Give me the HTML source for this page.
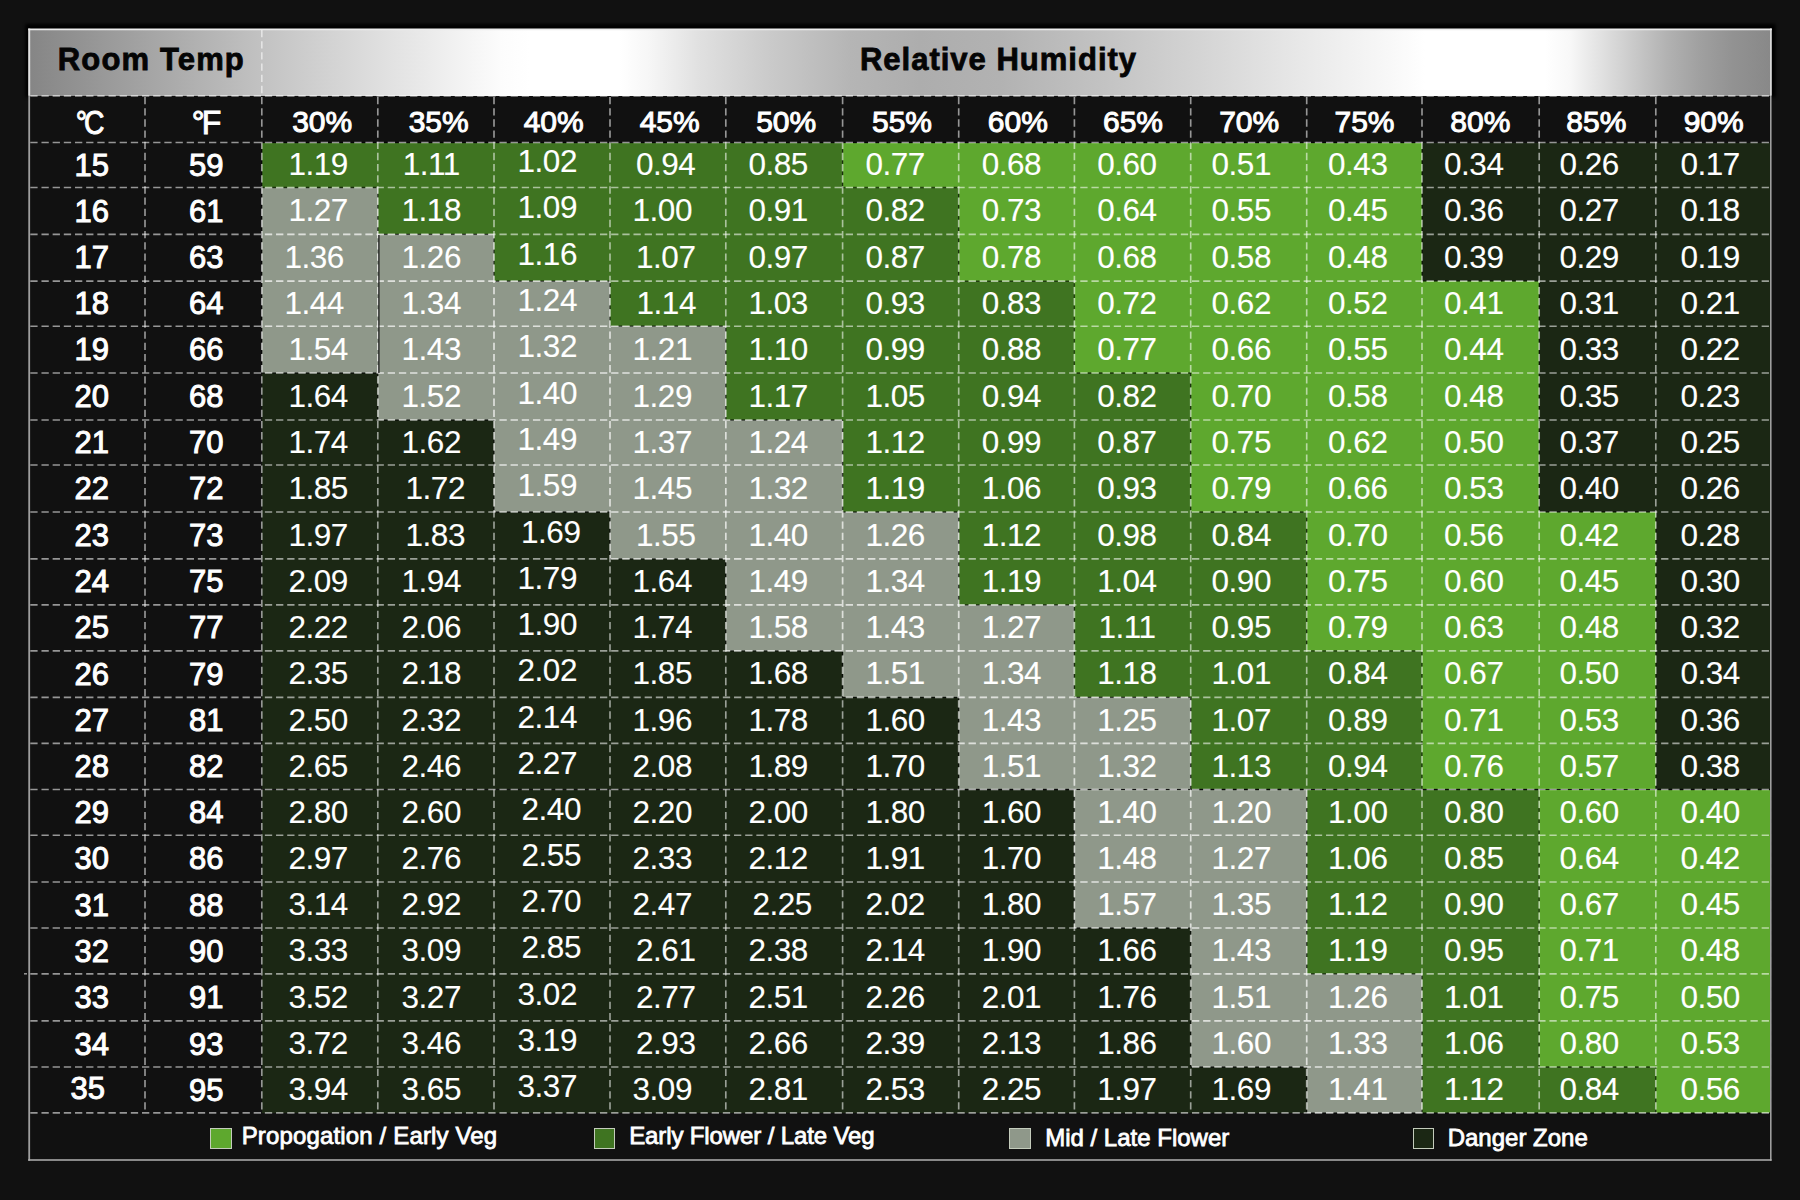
<!DOCTYPE html>
<html><head><meta charset="utf-8"><title>VPD Chart</title>
<style>
html,body{margin:0;padding:0;background:#111;}
body{width:1800px;height:1200px;position:relative;overflow:hidden;font-family:"Liberation Sans",sans-serif;color:#fff;}
.c{position:absolute;}
.t{position:absolute;text-align:center;white-space:nowrap;line-height:1;}
.d{font-size:31.5px;letter-spacing:-0.5px;-webkit-text-stroke:0.1px #fff;}
.b{font-size:31px;-webkit-text-stroke:1px #fff;}
.u{font-size:34px;-webkit-text-stroke:1px #fff;}
.dg{display:inline-block;letter-spacing:-3.5px;transform:scaleX(0.83);}
.df{letter-spacing:-3px;transform:scaleX(0.94);}
.p{font-size:30px;-webkit-text-stroke:1px #fff;}
.h{font-size:31px;font-weight:bold;color:#050505;letter-spacing:1.15px;-webkit-text-stroke:0.8px #050505;}
.l{font-size:24px;text-align:left;-webkit-text-stroke:0.8px #fff;}
svg{position:absolute;left:0;top:0;}

</style></head><body>
<div class="c" style="left:28.4px;top:28.5px;width:1743.6px;height:66.3px;box-shadow:0 -1.5px 3px 3.5px #000;"></div>
<div class="c" style="left:29.2px;top:29.5px;width:1742.0px;height:1130.5px;background:#111111;"></div>
<div class="c" style="left:29.2px;top:29.5px;width:1742.0px;height:66.3px;background:linear-gradient(90deg,#858585 -0.07%,#c2c2c2 13.36%,#dadada 18.99%,#f0f0f0 24.16%,#fcfcfc 27.03%,#ffffff 28.75%,#ffffff 33.92%,#f6f6f6 35.64%,#e0e0e0 38.51%,#cacaca 42.53%,#b5b5b5 47.12%,#adadad 51.14%,#b2b2b2 55.73%,#c2c2c2 61.47%,#d4d4d4 67.21%,#e8e8e8 72.95%,#f8f8f8 78.12%,#ffffff 80.13%,#ffffff 87.01%,#f8f8f8 88.45%,#e2e2e2 90.17%,#cacaca 92.07%,#b2b2b2 94.02%,#a0a0a0 95.91%,#929292 97.81%,#888888 100.05%);"></div>
<div class="c" style="left:261.8px;top:142.5px;width:116px;height:45px;background:#3f7421"></div>
<div class="c" style="left:377.8px;top:142.5px;width:116.2px;height:45px;background:#3f7421"></div>
<div class="c" style="left:494px;top:142.5px;width:116px;height:45px;background:#3f7421"></div>
<div class="c" style="left:610px;top:142.5px;width:115.8px;height:45px;background:#3f7421"></div>
<div class="c" style="left:725.8px;top:142.5px;width:116.8px;height:45px;background:#3f7421"></div>
<div class="c" style="left:842.6px;top:142.5px;width:116.1px;height:45px;background:#5ea82e"></div>
<div class="c" style="left:958.7px;top:142.5px;width:115.7px;height:45px;background:#5ea82e"></div>
<div class="c" style="left:1074.4px;top:142.5px;width:116.3px;height:45px;background:#5ea82e"></div>
<div class="c" style="left:1190.7px;top:142.5px;width:116px;height:45px;background:#5ea82e"></div>
<div class="c" style="left:1306.7px;top:142.5px;width:115.3px;height:45px;background:#5ea82e"></div>
<div class="c" style="left:1422px;top:142.5px;width:117.2px;height:45px;background:#1b2714"></div>
<div class="c" style="left:1539.2px;top:142.5px;width:116.6px;height:45px;background:#1b2714"></div>
<div class="c" style="left:1655.8px;top:142.5px;width:115.4px;height:45px;background:#1b2714"></div>
<div class="c" style="left:261.8px;top:187.5px;width:116px;height:46.9px;background:#8f988a"></div>
<div class="c" style="left:377.8px;top:187.5px;width:116.2px;height:46.9px;background:#3f7421"></div>
<div class="c" style="left:494px;top:187.5px;width:116px;height:46.9px;background:#3f7421"></div>
<div class="c" style="left:610px;top:187.5px;width:115.8px;height:46.9px;background:#3f7421"></div>
<div class="c" style="left:725.8px;top:187.5px;width:116.8px;height:46.9px;background:#3f7421"></div>
<div class="c" style="left:842.6px;top:187.5px;width:116.1px;height:46.9px;background:#3f7421"></div>
<div class="c" style="left:958.7px;top:187.5px;width:115.7px;height:46.9px;background:#5ea82e"></div>
<div class="c" style="left:1074.4px;top:187.5px;width:116.3px;height:46.9px;background:#5ea82e"></div>
<div class="c" style="left:1190.7px;top:187.5px;width:116px;height:46.9px;background:#5ea82e"></div>
<div class="c" style="left:1306.7px;top:187.5px;width:115.3px;height:46.9px;background:#5ea82e"></div>
<div class="c" style="left:1422px;top:187.5px;width:117.2px;height:46.9px;background:#1b2714"></div>
<div class="c" style="left:1539.2px;top:187.5px;width:116.6px;height:46.9px;background:#1b2714"></div>
<div class="c" style="left:1655.8px;top:187.5px;width:115.4px;height:46.9px;background:#1b2714"></div>
<div class="c" style="left:261.8px;top:234.4px;width:116px;height:46.7px;background:#8f988a"></div>
<div class="c" style="left:377.8px;top:234.4px;width:116.2px;height:46.7px;background:#8f988a"></div>
<div class="c" style="left:494px;top:234.4px;width:116px;height:46.7px;background:#3f7421"></div>
<div class="c" style="left:610px;top:234.4px;width:115.8px;height:46.7px;background:#3f7421"></div>
<div class="c" style="left:725.8px;top:234.4px;width:116.8px;height:46.7px;background:#3f7421"></div>
<div class="c" style="left:842.6px;top:234.4px;width:116.1px;height:46.7px;background:#3f7421"></div>
<div class="c" style="left:958.7px;top:234.4px;width:115.7px;height:46.7px;background:#5ea82e"></div>
<div class="c" style="left:1074.4px;top:234.4px;width:116.3px;height:46.7px;background:#5ea82e"></div>
<div class="c" style="left:1190.7px;top:234.4px;width:116px;height:46.7px;background:#5ea82e"></div>
<div class="c" style="left:1306.7px;top:234.4px;width:115.3px;height:46.7px;background:#5ea82e"></div>
<div class="c" style="left:1422px;top:234.4px;width:117.2px;height:46.7px;background:#1b2714"></div>
<div class="c" style="left:1539.2px;top:234.4px;width:116.6px;height:46.7px;background:#1b2714"></div>
<div class="c" style="left:1655.8px;top:234.4px;width:115.4px;height:46.7px;background:#1b2714"></div>
<div class="c" style="left:261.8px;top:281.1px;width:116px;height:45.1px;background:#8f988a"></div>
<div class="c" style="left:377.8px;top:281.1px;width:116.2px;height:45.1px;background:#8f988a"></div>
<div class="c" style="left:494px;top:281.1px;width:116px;height:45.1px;background:#8f988a"></div>
<div class="c" style="left:610px;top:281.1px;width:115.8px;height:45.1px;background:#3f7421"></div>
<div class="c" style="left:725.8px;top:281.1px;width:116.8px;height:45.1px;background:#3f7421"></div>
<div class="c" style="left:842.6px;top:281.1px;width:116.1px;height:45.1px;background:#3f7421"></div>
<div class="c" style="left:958.7px;top:281.1px;width:115.7px;height:45.1px;background:#3f7421"></div>
<div class="c" style="left:1074.4px;top:281.1px;width:116.3px;height:45.1px;background:#5ea82e"></div>
<div class="c" style="left:1190.7px;top:281.1px;width:116px;height:45.1px;background:#5ea82e"></div>
<div class="c" style="left:1306.7px;top:281.1px;width:115.3px;height:45.1px;background:#5ea82e"></div>
<div class="c" style="left:1422px;top:281.1px;width:117.2px;height:45.1px;background:#5ea82e"></div>
<div class="c" style="left:1539.2px;top:281.1px;width:116.6px;height:45.1px;background:#1b2714"></div>
<div class="c" style="left:1655.8px;top:281.1px;width:115.4px;height:45.1px;background:#1b2714"></div>
<div class="c" style="left:261.8px;top:326.2px;width:116px;height:46.8px;background:#8f988a"></div>
<div class="c" style="left:377.8px;top:326.2px;width:116.2px;height:46.8px;background:#8f988a"></div>
<div class="c" style="left:494px;top:326.2px;width:116px;height:46.8px;background:#8f988a"></div>
<div class="c" style="left:610px;top:326.2px;width:115.8px;height:46.8px;background:#8f988a"></div>
<div class="c" style="left:725.8px;top:326.2px;width:116.8px;height:46.8px;background:#3f7421"></div>
<div class="c" style="left:842.6px;top:326.2px;width:116.1px;height:46.8px;background:#3f7421"></div>
<div class="c" style="left:958.7px;top:326.2px;width:115.7px;height:46.8px;background:#3f7421"></div>
<div class="c" style="left:1074.4px;top:326.2px;width:116.3px;height:46.8px;background:#5ea82e"></div>
<div class="c" style="left:1190.7px;top:326.2px;width:116px;height:46.8px;background:#5ea82e"></div>
<div class="c" style="left:1306.7px;top:326.2px;width:115.3px;height:46.8px;background:#5ea82e"></div>
<div class="c" style="left:1422px;top:326.2px;width:117.2px;height:46.8px;background:#5ea82e"></div>
<div class="c" style="left:1539.2px;top:326.2px;width:116.6px;height:46.8px;background:#1b2714"></div>
<div class="c" style="left:1655.8px;top:326.2px;width:115.4px;height:46.8px;background:#1b2714"></div>
<div class="c" style="left:261.8px;top:373px;width:116px;height:47px;background:#1b2714"></div>
<div class="c" style="left:377.8px;top:373px;width:116.2px;height:47px;background:#8f988a"></div>
<div class="c" style="left:494px;top:373px;width:116px;height:47px;background:#8f988a"></div>
<div class="c" style="left:610px;top:373px;width:115.8px;height:47px;background:#8f988a"></div>
<div class="c" style="left:725.8px;top:373px;width:116.8px;height:47px;background:#3f7421"></div>
<div class="c" style="left:842.6px;top:373px;width:116.1px;height:47px;background:#3f7421"></div>
<div class="c" style="left:958.7px;top:373px;width:115.7px;height:47px;background:#3f7421"></div>
<div class="c" style="left:1074.4px;top:373px;width:116.3px;height:47px;background:#3f7421"></div>
<div class="c" style="left:1190.7px;top:373px;width:116px;height:47px;background:#5ea82e"></div>
<div class="c" style="left:1306.7px;top:373px;width:115.3px;height:47px;background:#5ea82e"></div>
<div class="c" style="left:1422px;top:373px;width:117.2px;height:47px;background:#5ea82e"></div>
<div class="c" style="left:1539.2px;top:373px;width:116.6px;height:47px;background:#1b2714"></div>
<div class="c" style="left:1655.8px;top:373px;width:115.4px;height:47px;background:#1b2714"></div>
<div class="c" style="left:261.8px;top:420px;width:116px;height:45px;background:#1b2714"></div>
<div class="c" style="left:377.8px;top:420px;width:116.2px;height:45px;background:#1b2714"></div>
<div class="c" style="left:494px;top:420px;width:116px;height:45px;background:#8f988a"></div>
<div class="c" style="left:610px;top:420px;width:115.8px;height:45px;background:#8f988a"></div>
<div class="c" style="left:725.8px;top:420px;width:116.8px;height:45px;background:#8f988a"></div>
<div class="c" style="left:842.6px;top:420px;width:116.1px;height:45px;background:#3f7421"></div>
<div class="c" style="left:958.7px;top:420px;width:115.7px;height:45px;background:#3f7421"></div>
<div class="c" style="left:1074.4px;top:420px;width:116.3px;height:45px;background:#3f7421"></div>
<div class="c" style="left:1190.7px;top:420px;width:116px;height:45px;background:#5ea82e"></div>
<div class="c" style="left:1306.7px;top:420px;width:115.3px;height:45px;background:#5ea82e"></div>
<div class="c" style="left:1422px;top:420px;width:117.2px;height:45px;background:#5ea82e"></div>
<div class="c" style="left:1539.2px;top:420px;width:116.6px;height:45px;background:#1b2714"></div>
<div class="c" style="left:1655.8px;top:420px;width:115.4px;height:45px;background:#1b2714"></div>
<div class="c" style="left:261.8px;top:465px;width:116px;height:47px;background:#1b2714"></div>
<div class="c" style="left:377.8px;top:465px;width:116.2px;height:47px;background:#1b2714"></div>
<div class="c" style="left:494px;top:465px;width:116px;height:47px;background:#8f988a"></div>
<div class="c" style="left:610px;top:465px;width:115.8px;height:47px;background:#8f988a"></div>
<div class="c" style="left:725.8px;top:465px;width:116.8px;height:47px;background:#8f988a"></div>
<div class="c" style="left:842.6px;top:465px;width:116.1px;height:47px;background:#3f7421"></div>
<div class="c" style="left:958.7px;top:465px;width:115.7px;height:47px;background:#3f7421"></div>
<div class="c" style="left:1074.4px;top:465px;width:116.3px;height:47px;background:#3f7421"></div>
<div class="c" style="left:1190.7px;top:465px;width:116px;height:47px;background:#5ea82e"></div>
<div class="c" style="left:1306.7px;top:465px;width:115.3px;height:47px;background:#5ea82e"></div>
<div class="c" style="left:1422px;top:465px;width:117.2px;height:47px;background:#5ea82e"></div>
<div class="c" style="left:1539.2px;top:465px;width:116.6px;height:47px;background:#1b2714"></div>
<div class="c" style="left:1655.8px;top:465px;width:115.4px;height:47px;background:#1b2714"></div>
<div class="c" style="left:261.8px;top:512px;width:116px;height:46.8px;background:#1b2714"></div>
<div class="c" style="left:377.8px;top:512px;width:116.2px;height:46.8px;background:#1b2714"></div>
<div class="c" style="left:494px;top:512px;width:116px;height:46.8px;background:#1b2714"></div>
<div class="c" style="left:610px;top:512px;width:115.8px;height:46.8px;background:#8f988a"></div>
<div class="c" style="left:725.8px;top:512px;width:116.8px;height:46.8px;background:#8f988a"></div>
<div class="c" style="left:842.6px;top:512px;width:116.1px;height:46.8px;background:#8f988a"></div>
<div class="c" style="left:958.7px;top:512px;width:115.7px;height:46.8px;background:#3f7421"></div>
<div class="c" style="left:1074.4px;top:512px;width:116.3px;height:46.8px;background:#3f7421"></div>
<div class="c" style="left:1190.7px;top:512px;width:116px;height:46.8px;background:#3f7421"></div>
<div class="c" style="left:1306.7px;top:512px;width:115.3px;height:46.8px;background:#5ea82e"></div>
<div class="c" style="left:1422px;top:512px;width:117.2px;height:46.8px;background:#5ea82e"></div>
<div class="c" style="left:1539.2px;top:512px;width:116.6px;height:46.8px;background:#5ea82e"></div>
<div class="c" style="left:1655.8px;top:512px;width:115.4px;height:46.8px;background:#1b2714"></div>
<div class="c" style="left:261.8px;top:558.8px;width:116px;height:46px;background:#1b2714"></div>
<div class="c" style="left:377.8px;top:558.8px;width:116.2px;height:46px;background:#1b2714"></div>
<div class="c" style="left:494px;top:558.8px;width:116px;height:46px;background:#1b2714"></div>
<div class="c" style="left:610px;top:558.8px;width:115.8px;height:46px;background:#1b2714"></div>
<div class="c" style="left:725.8px;top:558.8px;width:116.8px;height:46px;background:#8f988a"></div>
<div class="c" style="left:842.6px;top:558.8px;width:116.1px;height:46px;background:#8f988a"></div>
<div class="c" style="left:958.7px;top:558.8px;width:115.7px;height:46px;background:#3f7421"></div>
<div class="c" style="left:1074.4px;top:558.8px;width:116.3px;height:46px;background:#3f7421"></div>
<div class="c" style="left:1190.7px;top:558.8px;width:116px;height:46px;background:#3f7421"></div>
<div class="c" style="left:1306.7px;top:558.8px;width:115.3px;height:46px;background:#5ea82e"></div>
<div class="c" style="left:1422px;top:558.8px;width:117.2px;height:46px;background:#5ea82e"></div>
<div class="c" style="left:1539.2px;top:558.8px;width:116.6px;height:46px;background:#5ea82e"></div>
<div class="c" style="left:1655.8px;top:558.8px;width:115.4px;height:46px;background:#1b2714"></div>
<div class="c" style="left:261.8px;top:604.8px;width:116px;height:46px;background:#1b2714"></div>
<div class="c" style="left:377.8px;top:604.8px;width:116.2px;height:46px;background:#1b2714"></div>
<div class="c" style="left:494px;top:604.8px;width:116px;height:46px;background:#1b2714"></div>
<div class="c" style="left:610px;top:604.8px;width:115.8px;height:46px;background:#1b2714"></div>
<div class="c" style="left:725.8px;top:604.8px;width:116.8px;height:46px;background:#8f988a"></div>
<div class="c" style="left:842.6px;top:604.8px;width:116.1px;height:46px;background:#8f988a"></div>
<div class="c" style="left:958.7px;top:604.8px;width:115.7px;height:46px;background:#8f988a"></div>
<div class="c" style="left:1074.4px;top:604.8px;width:116.3px;height:46px;background:#3f7421"></div>
<div class="c" style="left:1190.7px;top:604.8px;width:116px;height:46px;background:#3f7421"></div>
<div class="c" style="left:1306.7px;top:604.8px;width:115.3px;height:46px;background:#5ea82e"></div>
<div class="c" style="left:1422px;top:604.8px;width:117.2px;height:46px;background:#5ea82e"></div>
<div class="c" style="left:1539.2px;top:604.8px;width:116.6px;height:46px;background:#5ea82e"></div>
<div class="c" style="left:1655.8px;top:604.8px;width:115.4px;height:46px;background:#1b2714"></div>
<div class="c" style="left:261.8px;top:650.8px;width:116px;height:46.6px;background:#1b2714"></div>
<div class="c" style="left:377.8px;top:650.8px;width:116.2px;height:46.6px;background:#1b2714"></div>
<div class="c" style="left:494px;top:650.8px;width:116px;height:46.6px;background:#1b2714"></div>
<div class="c" style="left:610px;top:650.8px;width:115.8px;height:46.6px;background:#1b2714"></div>
<div class="c" style="left:725.8px;top:650.8px;width:116.8px;height:46.6px;background:#1b2714"></div>
<div class="c" style="left:842.6px;top:650.8px;width:116.1px;height:46.6px;background:#8f988a"></div>
<div class="c" style="left:958.7px;top:650.8px;width:115.7px;height:46.6px;background:#8f988a"></div>
<div class="c" style="left:1074.4px;top:650.8px;width:116.3px;height:46.6px;background:#3f7421"></div>
<div class="c" style="left:1190.7px;top:650.8px;width:116px;height:46.6px;background:#3f7421"></div>
<div class="c" style="left:1306.7px;top:650.8px;width:115.3px;height:46.6px;background:#3f7421"></div>
<div class="c" style="left:1422px;top:650.8px;width:117.2px;height:46.6px;background:#5ea82e"></div>
<div class="c" style="left:1539.2px;top:650.8px;width:116.6px;height:46.6px;background:#5ea82e"></div>
<div class="c" style="left:1655.8px;top:650.8px;width:115.4px;height:46.6px;background:#1b2714"></div>
<div class="c" style="left:261.8px;top:697.4px;width:116px;height:45.9px;background:#1b2714"></div>
<div class="c" style="left:377.8px;top:697.4px;width:116.2px;height:45.9px;background:#1b2714"></div>
<div class="c" style="left:494px;top:697.4px;width:116px;height:45.9px;background:#1b2714"></div>
<div class="c" style="left:610px;top:697.4px;width:115.8px;height:45.9px;background:#1b2714"></div>
<div class="c" style="left:725.8px;top:697.4px;width:116.8px;height:45.9px;background:#1b2714"></div>
<div class="c" style="left:842.6px;top:697.4px;width:116.1px;height:45.9px;background:#1b2714"></div>
<div class="c" style="left:958.7px;top:697.4px;width:115.7px;height:45.9px;background:#8f988a"></div>
<div class="c" style="left:1074.4px;top:697.4px;width:116.3px;height:45.9px;background:#8f988a"></div>
<div class="c" style="left:1190.7px;top:697.4px;width:116px;height:45.9px;background:#3f7421"></div>
<div class="c" style="left:1306.7px;top:697.4px;width:115.3px;height:45.9px;background:#3f7421"></div>
<div class="c" style="left:1422px;top:697.4px;width:117.2px;height:45.9px;background:#5ea82e"></div>
<div class="c" style="left:1539.2px;top:697.4px;width:116.6px;height:45.9px;background:#5ea82e"></div>
<div class="c" style="left:1655.8px;top:697.4px;width:115.4px;height:45.9px;background:#1b2714"></div>
<div class="c" style="left:261.8px;top:743.3px;width:116px;height:46.2px;background:#1b2714"></div>
<div class="c" style="left:377.8px;top:743.3px;width:116.2px;height:46.2px;background:#1b2714"></div>
<div class="c" style="left:494px;top:743.3px;width:116px;height:46.2px;background:#1b2714"></div>
<div class="c" style="left:610px;top:743.3px;width:115.8px;height:46.2px;background:#1b2714"></div>
<div class="c" style="left:725.8px;top:743.3px;width:116.8px;height:46.2px;background:#1b2714"></div>
<div class="c" style="left:842.6px;top:743.3px;width:116.1px;height:46.2px;background:#1b2714"></div>
<div class="c" style="left:958.7px;top:743.3px;width:115.7px;height:46.2px;background:#8f988a"></div>
<div class="c" style="left:1074.4px;top:743.3px;width:116.3px;height:46.2px;background:#8f988a"></div>
<div class="c" style="left:1190.7px;top:743.3px;width:116px;height:46.2px;background:#3f7421"></div>
<div class="c" style="left:1306.7px;top:743.3px;width:115.3px;height:46.2px;background:#3f7421"></div>
<div class="c" style="left:1422px;top:743.3px;width:117.2px;height:46.2px;background:#5ea82e"></div>
<div class="c" style="left:1539.2px;top:743.3px;width:116.6px;height:46.2px;background:#5ea82e"></div>
<div class="c" style="left:1655.8px;top:743.3px;width:115.4px;height:46.2px;background:#1b2714"></div>
<div class="c" style="left:261.8px;top:789.5px;width:116px;height:45.7px;background:#1b2714"></div>
<div class="c" style="left:377.8px;top:789.5px;width:116.2px;height:45.7px;background:#1b2714"></div>
<div class="c" style="left:494px;top:789.5px;width:116px;height:45.7px;background:#1b2714"></div>
<div class="c" style="left:610px;top:789.5px;width:115.8px;height:45.7px;background:#1b2714"></div>
<div class="c" style="left:725.8px;top:789.5px;width:116.8px;height:45.7px;background:#1b2714"></div>
<div class="c" style="left:842.6px;top:789.5px;width:116.1px;height:45.7px;background:#1b2714"></div>
<div class="c" style="left:958.7px;top:789.5px;width:115.7px;height:45.7px;background:#1b2714"></div>
<div class="c" style="left:1074.4px;top:789.5px;width:116.3px;height:45.7px;background:#8f988a"></div>
<div class="c" style="left:1190.7px;top:789.5px;width:116px;height:45.7px;background:#8f988a"></div>
<div class="c" style="left:1306.7px;top:789.5px;width:115.3px;height:45.7px;background:#3f7421"></div>
<div class="c" style="left:1422px;top:789.5px;width:117.2px;height:45.7px;background:#3f7421"></div>
<div class="c" style="left:1539.2px;top:789.5px;width:116.6px;height:45.7px;background:#5ea82e"></div>
<div class="c" style="left:1655.8px;top:789.5px;width:115.4px;height:45.7px;background:#5ea82e"></div>
<div class="c" style="left:261.8px;top:835.2px;width:116px;height:46.8px;background:#1b2714"></div>
<div class="c" style="left:377.8px;top:835.2px;width:116.2px;height:46.8px;background:#1b2714"></div>
<div class="c" style="left:494px;top:835.2px;width:116px;height:46.8px;background:#1b2714"></div>
<div class="c" style="left:610px;top:835.2px;width:115.8px;height:46.8px;background:#1b2714"></div>
<div class="c" style="left:725.8px;top:835.2px;width:116.8px;height:46.8px;background:#1b2714"></div>
<div class="c" style="left:842.6px;top:835.2px;width:116.1px;height:46.8px;background:#1b2714"></div>
<div class="c" style="left:958.7px;top:835.2px;width:115.7px;height:46.8px;background:#1b2714"></div>
<div class="c" style="left:1074.4px;top:835.2px;width:116.3px;height:46.8px;background:#8f988a"></div>
<div class="c" style="left:1190.7px;top:835.2px;width:116px;height:46.8px;background:#8f988a"></div>
<div class="c" style="left:1306.7px;top:835.2px;width:115.3px;height:46.8px;background:#3f7421"></div>
<div class="c" style="left:1422px;top:835.2px;width:117.2px;height:46.8px;background:#3f7421"></div>
<div class="c" style="left:1539.2px;top:835.2px;width:116.6px;height:46.8px;background:#5ea82e"></div>
<div class="c" style="left:1655.8px;top:835.2px;width:115.4px;height:46.8px;background:#5ea82e"></div>
<div class="c" style="left:261.8px;top:882px;width:116px;height:46px;background:#1b2714"></div>
<div class="c" style="left:377.8px;top:882px;width:116.2px;height:46px;background:#1b2714"></div>
<div class="c" style="left:494px;top:882px;width:116px;height:46px;background:#1b2714"></div>
<div class="c" style="left:610px;top:882px;width:115.8px;height:46px;background:#1b2714"></div>
<div class="c" style="left:725.8px;top:882px;width:116.8px;height:46px;background:#1b2714"></div>
<div class="c" style="left:842.6px;top:882px;width:116.1px;height:46px;background:#1b2714"></div>
<div class="c" style="left:958.7px;top:882px;width:115.7px;height:46px;background:#1b2714"></div>
<div class="c" style="left:1074.4px;top:882px;width:116.3px;height:46px;background:#8f988a"></div>
<div class="c" style="left:1190.7px;top:882px;width:116px;height:46px;background:#8f988a"></div>
<div class="c" style="left:1306.7px;top:882px;width:115.3px;height:46px;background:#3f7421"></div>
<div class="c" style="left:1422px;top:882px;width:117.2px;height:46px;background:#3f7421"></div>
<div class="c" style="left:1539.2px;top:882px;width:116.6px;height:46px;background:#5ea82e"></div>
<div class="c" style="left:1655.8px;top:882px;width:115.4px;height:46px;background:#5ea82e"></div>
<div class="c" style="left:261.8px;top:928px;width:116px;height:45.8px;background:#1b2714"></div>
<div class="c" style="left:377.8px;top:928px;width:116.2px;height:45.8px;background:#1b2714"></div>
<div class="c" style="left:494px;top:928px;width:116px;height:45.8px;background:#1b2714"></div>
<div class="c" style="left:610px;top:928px;width:115.8px;height:45.8px;background:#1b2714"></div>
<div class="c" style="left:725.8px;top:928px;width:116.8px;height:45.8px;background:#1b2714"></div>
<div class="c" style="left:842.6px;top:928px;width:116.1px;height:45.8px;background:#1b2714"></div>
<div class="c" style="left:958.7px;top:928px;width:115.7px;height:45.8px;background:#1b2714"></div>
<div class="c" style="left:1074.4px;top:928px;width:116.3px;height:45.8px;background:#1b2714"></div>
<div class="c" style="left:1190.7px;top:928px;width:116px;height:45.8px;background:#8f988a"></div>
<div class="c" style="left:1306.7px;top:928px;width:115.3px;height:45.8px;background:#3f7421"></div>
<div class="c" style="left:1422px;top:928px;width:117.2px;height:45.8px;background:#3f7421"></div>
<div class="c" style="left:1539.2px;top:928px;width:116.6px;height:45.8px;background:#5ea82e"></div>
<div class="c" style="left:1655.8px;top:928px;width:115.4px;height:45.8px;background:#5ea82e"></div>
<div class="c" style="left:261.8px;top:973.8px;width:116px;height:47px;background:#1b2714"></div>
<div class="c" style="left:377.8px;top:973.8px;width:116.2px;height:47px;background:#1b2714"></div>
<div class="c" style="left:494px;top:973.8px;width:116px;height:47px;background:#1b2714"></div>
<div class="c" style="left:610px;top:973.8px;width:115.8px;height:47px;background:#1b2714"></div>
<div class="c" style="left:725.8px;top:973.8px;width:116.8px;height:47px;background:#1b2714"></div>
<div class="c" style="left:842.6px;top:973.8px;width:116.1px;height:47px;background:#1b2714"></div>
<div class="c" style="left:958.7px;top:973.8px;width:115.7px;height:47px;background:#1b2714"></div>
<div class="c" style="left:1074.4px;top:973.8px;width:116.3px;height:47px;background:#1b2714"></div>
<div class="c" style="left:1190.7px;top:973.8px;width:116px;height:47px;background:#8f988a"></div>
<div class="c" style="left:1306.7px;top:973.8px;width:115.3px;height:47px;background:#8f988a"></div>
<div class="c" style="left:1422px;top:973.8px;width:117.2px;height:47px;background:#3f7421"></div>
<div class="c" style="left:1539.2px;top:973.8px;width:116.6px;height:47px;background:#5ea82e"></div>
<div class="c" style="left:1655.8px;top:973.8px;width:115.4px;height:47px;background:#5ea82e"></div>
<div class="c" style="left:261.8px;top:1020.8px;width:116px;height:46.2px;background:#1b2714"></div>
<div class="c" style="left:377.8px;top:1020.8px;width:116.2px;height:46.2px;background:#1b2714"></div>
<div class="c" style="left:494px;top:1020.8px;width:116px;height:46.2px;background:#1b2714"></div>
<div class="c" style="left:610px;top:1020.8px;width:115.8px;height:46.2px;background:#1b2714"></div>
<div class="c" style="left:725.8px;top:1020.8px;width:116.8px;height:46.2px;background:#1b2714"></div>
<div class="c" style="left:842.6px;top:1020.8px;width:116.1px;height:46.2px;background:#1b2714"></div>
<div class="c" style="left:958.7px;top:1020.8px;width:115.7px;height:46.2px;background:#1b2714"></div>
<div class="c" style="left:1074.4px;top:1020.8px;width:116.3px;height:46.2px;background:#1b2714"></div>
<div class="c" style="left:1190.7px;top:1020.8px;width:116px;height:46.2px;background:#8f988a"></div>
<div class="c" style="left:1306.7px;top:1020.8px;width:115.3px;height:46.2px;background:#8f988a"></div>
<div class="c" style="left:1422px;top:1020.8px;width:117.2px;height:46.2px;background:#3f7421"></div>
<div class="c" style="left:1539.2px;top:1020.8px;width:116.6px;height:46.2px;background:#5ea82e"></div>
<div class="c" style="left:1655.8px;top:1020.8px;width:115.4px;height:46.2px;background:#5ea82e"></div>
<div class="c" style="left:261.8px;top:1067px;width:116px;height:45.8px;background:#1b2714"></div>
<div class="c" style="left:377.8px;top:1067px;width:116.2px;height:45.8px;background:#1b2714"></div>
<div class="c" style="left:494px;top:1067px;width:116px;height:45.8px;background:#1b2714"></div>
<div class="c" style="left:610px;top:1067px;width:115.8px;height:45.8px;background:#1b2714"></div>
<div class="c" style="left:725.8px;top:1067px;width:116.8px;height:45.8px;background:#1b2714"></div>
<div class="c" style="left:842.6px;top:1067px;width:116.1px;height:45.8px;background:#1b2714"></div>
<div class="c" style="left:958.7px;top:1067px;width:115.7px;height:45.8px;background:#1b2714"></div>
<div class="c" style="left:1074.4px;top:1067px;width:116.3px;height:45.8px;background:#1b2714"></div>
<div class="c" style="left:1190.7px;top:1067px;width:116px;height:45.8px;background:#1b2714"></div>
<div class="c" style="left:1306.7px;top:1067px;width:115.3px;height:45.8px;background:#8f988a"></div>
<div class="c" style="left:1422px;top:1067px;width:117.2px;height:45.8px;background:#3f7421"></div>
<div class="c" style="left:1539.2px;top:1067px;width:116.6px;height:45.8px;background:#3f7421"></div>
<div class="c" style="left:1655.8px;top:1067px;width:115.4px;height:45.8px;background:#5ea82e"></div>
<svg width="1800" height="1200" viewBox="0 0 1800 1200">
<g stroke="#000" stroke-opacity="0.6" stroke-width="1.3" fill="none" stroke-dasharray="3.57 7.6">
<path d="M261.8 142.5H377.8" stroke-dashoffset="0.65"/>
<path d="M377.8 142.5H494" stroke-dashoffset="4.95"/>
<path d="M494 142.5H610" stroke-dashoffset="9.45"/>
<path d="M610 142.5H725.8" stroke-dashoffset="2.58"/>
<path d="M725.8 142.5H842.6" stroke-dashoffset="6.68"/>
<path d="M842.6 142.5H958.7" stroke-dashoffset="0.61"/>
<path d="M958.7 142.5H1074.4" stroke-dashoffset="5.01"/>
<path d="M1074.4 142.5H1190.7" stroke-dashoffset="9.01"/>
<path d="M1190.7 142.5H1306.7" stroke-dashoffset="2.44"/>
<path d="M1306.7 142.5H1422" stroke-dashoffset="6.74"/>
<path d="M261.8 187.5H377.8" stroke-dashoffset="0.65"/>
<path d="M842.6 187.5H958.7" stroke-dashoffset="0.61"/>
<path d="M377.8 234.4H494" stroke-dashoffset="4.95"/>
<path d="M494 281.1H610" stroke-dashoffset="9.45"/>
<path d="M958.7 281.1H1074.4" stroke-dashoffset="5.01"/>
<path d="M1422 281.1H1539.2" stroke-dashoffset="10.34"/>
<path d="M610 326.2H725.8" stroke-dashoffset="2.58"/>
<path d="M261.8 373H377.8" stroke-dashoffset="0.65"/>
<path d="M1074.4 373H1190.7" stroke-dashoffset="9.01"/>
<path d="M377.8 420H494" stroke-dashoffset="4.95"/>
<path d="M725.8 420H842.6" stroke-dashoffset="6.68"/>
<path d="M494 512H610" stroke-dashoffset="9.45"/>
<path d="M842.6 512H958.7" stroke-dashoffset="0.61"/>
<path d="M1190.7 512H1306.7" stroke-dashoffset="2.44"/>
<path d="M1539.2 512H1655.8" stroke-dashoffset="4.67"/>
<path d="M610 558.8H725.8" stroke-dashoffset="2.58"/>
<path d="M958.7 604.8H1074.4" stroke-dashoffset="5.01"/>
<path d="M725.8 650.8H842.6" stroke-dashoffset="6.68"/>
<path d="M1306.7 650.8H1422" stroke-dashoffset="6.74"/>
<path d="M842.6 697.4H958.7" stroke-dashoffset="0.61"/>
<path d="M1074.4 697.4H1190.7" stroke-dashoffset="9.01"/>
<path d="M958.7 789.5H1074.4" stroke-dashoffset="5.01"/>
<path d="M1190.7 789.5H1306.7" stroke-dashoffset="2.44"/>
<path d="M1422 789.5H1539.2" stroke-dashoffset="10.34"/>
<path d="M1655.8 789.5H1771.2" stroke-dashoffset="9.57"/>
<path d="M1074.4 928H1190.7" stroke-dashoffset="9.01"/>
<path d="M1306.7 973.8H1422" stroke-dashoffset="6.74"/>
<path d="M1190.7 1067H1306.7" stroke-dashoffset="2.44"/>
<path d="M1539.2 1067H1655.8" stroke-dashoffset="4.67"/>
<path d="M1306.7 1112.8H1422" stroke-dashoffset="6.74"/>
<path d="M1422 1112.8H1539.2" stroke-dashoffset="10.34"/>
<path d="M1539.2 1112.8H1655.8" stroke-dashoffset="4.67"/>
<path d="M1655.8 1112.8H1771.2" stroke-dashoffset="9.57"/>
<path d="M261.8 142.5V187.5" stroke-dashoffset="4.54"/>
<path d="M261.8 187.5V234.4" stroke-dashoffset="4.86"/>
<path d="M261.8 234.4V281.1" stroke-dashoffset="7.08"/>
<path d="M261.8 281.1V326.2" stroke-dashoffset="9.1"/>
<path d="M261.8 326.2V373" stroke-dashoffset="9.52"/>
<path d="M377.8 187.5V234.4" stroke-dashoffset="4.86"/>
<path d="M377.8 373V420" stroke-dashoffset="0.47"/>
<path d="M494 234.4V281.1" stroke-dashoffset="7.08"/>
<path d="M494 420V465" stroke-dashoffset="2.79"/>
<path d="M494 465V512" stroke-dashoffset="3.11"/>
<path d="M610 281.1V326.2" stroke-dashoffset="9.1"/>
<path d="M610 512V558.8" stroke-dashoffset="5.43"/>
<path d="M725.8 326.2V373" stroke-dashoffset="9.52"/>
<path d="M725.8 373V420" stroke-dashoffset="0.47"/>
<path d="M725.8 558.8V604.8" stroke-dashoffset="7.55"/>
<path d="M725.8 604.8V650.8" stroke-dashoffset="8.87"/>
<path d="M842.6 142.5V187.5" stroke-dashoffset="4.54"/>
<path d="M842.6 420V465" stroke-dashoffset="2.79"/>
<path d="M842.6 465V512" stroke-dashoffset="3.11"/>
<path d="M842.6 650.8V697.4" stroke-dashoffset="10.19"/>
<path d="M958.7 187.5V234.4" stroke-dashoffset="4.86"/>
<path d="M958.7 234.4V281.1" stroke-dashoffset="7.08"/>
<path d="M958.7 512V558.8" stroke-dashoffset="5.43"/>
<path d="M958.7 558.8V604.8" stroke-dashoffset="7.55"/>
<path d="M958.7 697.4V743.3" stroke-dashoffset="0.94"/>
<path d="M958.7 743.3V789.5" stroke-dashoffset="2.16"/>
<path d="M1074.4 281.1V326.2" stroke-dashoffset="9.1"/>
<path d="M1074.4 326.2V373" stroke-dashoffset="9.52"/>
<path d="M1074.4 604.8V650.8" stroke-dashoffset="8.87"/>
<path d="M1074.4 650.8V697.4" stroke-dashoffset="10.19"/>
<path d="M1074.4 789.5V835.2" stroke-dashoffset="3.68"/>
<path d="M1074.4 835.2V882" stroke-dashoffset="4.7"/>
<path d="M1074.4 882V928" stroke-dashoffset="6.82"/>
<path d="M1190.7 373V420" stroke-dashoffset="0.47"/>
<path d="M1190.7 420V465" stroke-dashoffset="2.79"/>
<path d="M1190.7 465V512" stroke-dashoffset="3.11"/>
<path d="M1190.7 697.4V743.3" stroke-dashoffset="0.94"/>
<path d="M1190.7 743.3V789.5" stroke-dashoffset="2.16"/>
<path d="M1190.7 928V973.8" stroke-dashoffset="8.14"/>
<path d="M1190.7 973.8V1020.8" stroke-dashoffset="9.26"/>
<path d="M1190.7 1020.8V1067" stroke-dashoffset="0.41"/>
<path d="M1306.7 512V558.8" stroke-dashoffset="5.43"/>
<path d="M1306.7 558.8V604.8" stroke-dashoffset="7.55"/>
<path d="M1306.7 604.8V650.8" stroke-dashoffset="8.87"/>
<path d="M1306.7 789.5V835.2" stroke-dashoffset="3.68"/>
<path d="M1306.7 835.2V882" stroke-dashoffset="4.7"/>
<path d="M1306.7 882V928" stroke-dashoffset="6.82"/>
<path d="M1306.7 928V973.8" stroke-dashoffset="8.14"/>
<path d="M1306.7 1067V1112.8" stroke-dashoffset="1.93"/>
<path d="M1422 142.5V187.5" stroke-dashoffset="4.54"/>
<path d="M1422 187.5V234.4" stroke-dashoffset="4.86"/>
<path d="M1422 234.4V281.1" stroke-dashoffset="7.08"/>
<path d="M1422 650.8V697.4" stroke-dashoffset="10.19"/>
<path d="M1422 697.4V743.3" stroke-dashoffset="0.94"/>
<path d="M1422 743.3V789.5" stroke-dashoffset="2.16"/>
<path d="M1422 973.8V1020.8" stroke-dashoffset="9.26"/>
<path d="M1422 1020.8V1067" stroke-dashoffset="0.41"/>
<path d="M1422 1067V1112.8" stroke-dashoffset="1.93"/>
<path d="M1539.2 281.1V326.2" stroke-dashoffset="9.1"/>
<path d="M1539.2 326.2V373" stroke-dashoffset="9.52"/>
<path d="M1539.2 373V420" stroke-dashoffset="0.47"/>
<path d="M1539.2 420V465" stroke-dashoffset="2.79"/>
<path d="M1539.2 465V512" stroke-dashoffset="3.11"/>
<path d="M1539.2 789.5V835.2" stroke-dashoffset="3.68"/>
<path d="M1539.2 835.2V882" stroke-dashoffset="4.7"/>
<path d="M1539.2 882V928" stroke-dashoffset="6.82"/>
<path d="M1539.2 928V973.8" stroke-dashoffset="8.14"/>
<path d="M1539.2 973.8V1020.8" stroke-dashoffset="9.26"/>
<path d="M1539.2 1020.8V1067" stroke-dashoffset="0.41"/>
<path d="M1655.8 512V558.8" stroke-dashoffset="5.43"/>
<path d="M1655.8 558.8V604.8" stroke-dashoffset="7.55"/>
<path d="M1655.8 604.8V650.8" stroke-dashoffset="8.87"/>
<path d="M1655.8 650.8V697.4" stroke-dashoffset="10.19"/>
<path d="M1655.8 697.4V743.3" stroke-dashoffset="0.94"/>
<path d="M1655.8 743.3V789.5" stroke-dashoffset="2.16"/>
<path d="M1655.8 1067V1112.8" stroke-dashoffset="1.93"/>
<path d="M1771.2 789.5V835.2" stroke-dashoffset="3.68"/>
<path d="M1771.2 835.2V882" stroke-dashoffset="4.7"/>
<path d="M1771.2 882V928" stroke-dashoffset="6.82"/>
<path d="M1771.2 928V973.8" stroke-dashoffset="8.14"/>
<path d="M1771.2 973.8V1020.8" stroke-dashoffset="9.26"/>
<path d="M1771.2 1020.8V1067" stroke-dashoffset="0.41"/>
<path d="M1771.2 1067V1112.8" stroke-dashoffset="1.93"/>
</g>
<g stroke="#ffffff" stroke-opacity="0.56" stroke-width="1.65" stroke-dasharray="7.3 3.87" fill="none">
<path d="M30.3 142.5H1771.2"/>
<path d="M30.3 187.5H1771.2"/>
<path d="M30.3 234.4H1771.2"/>
<path d="M30.3 281.1H1771.2"/>
<path d="M30.3 326.2H1771.2"/>
<path d="M30.3 373H1771.2"/>
<path d="M30.3 420H1771.2"/>
<path d="M30.3 465H1771.2"/>
<path d="M30.3 512H1771.2"/>
<path d="M30.3 558.8H1771.2"/>
<path d="M30.3 604.8H1771.2"/>
<path d="M30.3 650.8H1771.2"/>
<path d="M30.3 697.4H1771.2"/>
<path d="M30.3 743.3H1771.2"/>
<path d="M30.3 789.5H1771.2"/>
<path d="M30.3 835.2H1771.2"/>
<path d="M30.3 882H1771.2"/>
<path d="M30.3 928H1771.2"/>
<path d="M30.3 973.8H1771.2"/>
<path d="M30.3 1020.8H1771.2"/>
<path d="M30.3 1067H1771.2"/>
<path d="M30.3 1112.8H1771.2"/>
<path d="M30.3 95.8H1771.2"/>
<path d="M145 97V1112.9"/>
<path d="M261.8 29.98V1112.9"/>
<path d="M377.8 97V1112.9"/>
<path d="M494 97V1112.9"/>
<path d="M610 97V1112.9"/>
<path d="M725.8 97V1112.9"/>
<path d="M842.6 97V1112.9"/>
<path d="M958.7 97V1112.9"/>
<path d="M1074.4 97V1112.9"/>
<path d="M1190.7 97V1112.9"/>
<path d="M1306.7 97V1112.9"/>
<path d="M1422 97V1112.9"/>
<path d="M1539.2 97V1112.9"/>
<path d="M1655.8 97V1112.9"/>
</g>
<g stroke="#ffffff" stroke-width="1.65" fill="none" stroke-dasharray="7.3 3.87">
<path d="M261.8 187.5H377.8" stroke-dashoffset="8.1" stroke-opacity="0.15"/>
<path d="M261.8 234.4H377.8" stroke-dashoffset="8.1" stroke-opacity="0.3"/>
<path d="M377.8 234.4H494" stroke-dashoffset="1.23" stroke-opacity="0.15"/>
<path d="M261.8 281.1H377.8" stroke-dashoffset="8.1" stroke-opacity="0.3"/>
<path d="M377.8 281.1H494" stroke-dashoffset="1.23" stroke-opacity="0.3"/>
<path d="M494 281.1H610" stroke-dashoffset="5.73" stroke-opacity="0.15"/>
<path d="M261.8 326.2H377.8" stroke-dashoffset="8.1" stroke-opacity="0.3"/>
<path d="M377.8 326.2H494" stroke-dashoffset="1.23" stroke-opacity="0.3"/>
<path d="M494 326.2H610" stroke-dashoffset="5.73" stroke-opacity="0.3"/>
<path d="M610 326.2H725.8" stroke-dashoffset="10.03" stroke-opacity="0.15"/>
<path d="M261.8 373H377.8" stroke-dashoffset="8.1" stroke-opacity="0.15"/>
<path d="M377.8 373H494" stroke-dashoffset="1.23" stroke-opacity="0.3"/>
<path d="M494 373H610" stroke-dashoffset="5.73" stroke-opacity="0.3"/>
<path d="M610 373H725.8" stroke-dashoffset="10.03" stroke-opacity="0.3"/>
<path d="M377.8 420H494" stroke-dashoffset="1.23" stroke-opacity="0.15"/>
<path d="M494 420H610" stroke-dashoffset="5.73" stroke-opacity="0.3"/>
<path d="M610 420H725.8" stroke-dashoffset="10.03" stroke-opacity="0.3"/>
<path d="M725.8 420H842.6" stroke-dashoffset="2.96" stroke-opacity="0.15"/>
<path d="M494 465H610" stroke-dashoffset="5.73" stroke-opacity="0.3"/>
<path d="M610 465H725.8" stroke-dashoffset="10.03" stroke-opacity="0.3"/>
<path d="M725.8 465H842.6" stroke-dashoffset="2.96" stroke-opacity="0.3"/>
<path d="M494 512H610" stroke-dashoffset="5.73" stroke-opacity="0.15"/>
<path d="M610 512H725.8" stroke-dashoffset="10.03" stroke-opacity="0.3"/>
<path d="M725.8 512H842.6" stroke-dashoffset="2.96" stroke-opacity="0.3"/>
<path d="M842.6 512H958.7" stroke-dashoffset="8.06" stroke-opacity="0.15"/>
<path d="M610 558.8H725.8" stroke-dashoffset="10.03" stroke-opacity="0.15"/>
<path d="M725.8 558.8H842.6" stroke-dashoffset="2.96" stroke-opacity="0.3"/>
<path d="M842.6 558.8H958.7" stroke-dashoffset="8.06" stroke-opacity="0.3"/>
<path d="M725.8 604.8H842.6" stroke-dashoffset="2.96" stroke-opacity="0.3"/>
<path d="M842.6 604.8H958.7" stroke-dashoffset="8.06" stroke-opacity="0.3"/>
<path d="M958.7 604.8H1074.4" stroke-dashoffset="1.29" stroke-opacity="0.15"/>
<path d="M725.8 650.8H842.6" stroke-dashoffset="2.96" stroke-opacity="0.15"/>
<path d="M842.6 650.8H958.7" stroke-dashoffset="8.06" stroke-opacity="0.3"/>
<path d="M958.7 650.8H1074.4" stroke-dashoffset="1.29" stroke-opacity="0.3"/>
<path d="M842.6 697.4H958.7" stroke-dashoffset="8.06" stroke-opacity="0.15"/>
<path d="M958.7 697.4H1074.4" stroke-dashoffset="1.29" stroke-opacity="0.3"/>
<path d="M1074.4 697.4H1190.7" stroke-dashoffset="5.29" stroke-opacity="0.15"/>
<path d="M958.7 743.3H1074.4" stroke-dashoffset="1.29" stroke-opacity="0.3"/>
<path d="M1074.4 743.3H1190.7" stroke-dashoffset="5.29" stroke-opacity="0.3"/>
<path d="M958.7 789.5H1074.4" stroke-dashoffset="1.29" stroke-opacity="0.15"/>
<path d="M1074.4 789.5H1190.7" stroke-dashoffset="5.29" stroke-opacity="0.3"/>
<path d="M1190.7 789.5H1306.7" stroke-dashoffset="9.89" stroke-opacity="0.15"/>
<path d="M1074.4 835.2H1190.7" stroke-dashoffset="5.29" stroke-opacity="0.3"/>
<path d="M1190.7 835.2H1306.7" stroke-dashoffset="9.89" stroke-opacity="0.3"/>
<path d="M1074.4 882H1190.7" stroke-dashoffset="5.29" stroke-opacity="0.3"/>
<path d="M1190.7 882H1306.7" stroke-dashoffset="9.89" stroke-opacity="0.3"/>
<path d="M1074.4 928H1190.7" stroke-dashoffset="5.29" stroke-opacity="0.15"/>
<path d="M1190.7 928H1306.7" stroke-dashoffset="9.89" stroke-opacity="0.3"/>
<path d="M1190.7 973.8H1306.7" stroke-dashoffset="9.89" stroke-opacity="0.3"/>
<path d="M1306.7 973.8H1422" stroke-dashoffset="3.02" stroke-opacity="0.15"/>
<path d="M1190.7 1020.8H1306.7" stroke-dashoffset="9.89" stroke-opacity="0.3"/>
<path d="M1306.7 1020.8H1422" stroke-dashoffset="3.02" stroke-opacity="0.3"/>
<path d="M1190.7 1067H1306.7" stroke-dashoffset="9.89" stroke-opacity="0.15"/>
<path d="M1306.7 1067H1422" stroke-dashoffset="3.02" stroke-opacity="0.3"/>
<path d="M1306.7 1112.8H1422" stroke-dashoffset="3.02" stroke-opacity="0.15"/>
<path d="M261.8 187.5V234.4" stroke-dashoffset="1.14" stroke-opacity="0.15"/>
<path d="M261.8 234.4V281.1" stroke-dashoffset="3.36" stroke-opacity="0.15"/>
<path d="M261.8 281.1V326.2" stroke-dashoffset="5.38" stroke-opacity="0.15"/>
<path d="M261.8 326.2V373" stroke-dashoffset="5.8" stroke-opacity="0.15"/>
<path d="M377.8 187.5V234.4" stroke-dashoffset="1.14" stroke-opacity="0.15"/>
<path d="M377.8 234.4V281.1" stroke-dashoffset="3.36" stroke-opacity="0.3"/>
<path d="M377.8 281.1V326.2" stroke-dashoffset="5.38" stroke-opacity="0.3"/>
<path d="M377.8 326.2V373" stroke-dashoffset="5.8" stroke-opacity="0.3"/>
<path d="M377.8 373V420" stroke-dashoffset="7.92" stroke-opacity="0.15"/>
<path d="M494 234.4V281.1" stroke-dashoffset="3.36" stroke-opacity="0.15"/>
<path d="M494 281.1V326.2" stroke-dashoffset="5.38" stroke-opacity="0.3"/>
<path d="M494 326.2V373" stroke-dashoffset="5.8" stroke-opacity="0.3"/>
<path d="M494 373V420" stroke-dashoffset="7.92" stroke-opacity="0.3"/>
<path d="M494 420V465" stroke-dashoffset="10.24" stroke-opacity="0.15"/>
<path d="M494 465V512" stroke-dashoffset="10.56" stroke-opacity="0.15"/>
<path d="M610 281.1V326.2" stroke-dashoffset="5.38" stroke-opacity="0.15"/>
<path d="M610 326.2V373" stroke-dashoffset="5.8" stroke-opacity="0.3"/>
<path d="M610 373V420" stroke-dashoffset="7.92" stroke-opacity="0.3"/>
<path d="M610 420V465" stroke-dashoffset="10.24" stroke-opacity="0.3"/>
<path d="M610 465V512" stroke-dashoffset="10.56" stroke-opacity="0.3"/>
<path d="M610 512V558.8" stroke-dashoffset="1.71" stroke-opacity="0.15"/>
<path d="M725.8 326.2V373" stroke-dashoffset="5.8" stroke-opacity="0.15"/>
<path d="M725.8 373V420" stroke-dashoffset="7.92" stroke-opacity="0.15"/>
<path d="M725.8 420V465" stroke-dashoffset="10.24" stroke-opacity="0.3"/>
<path d="M725.8 465V512" stroke-dashoffset="10.56" stroke-opacity="0.3"/>
<path d="M725.8 512V558.8" stroke-dashoffset="1.71" stroke-opacity="0.3"/>
<path d="M725.8 558.8V604.8" stroke-dashoffset="3.83" stroke-opacity="0.15"/>
<path d="M725.8 604.8V650.8" stroke-dashoffset="5.15" stroke-opacity="0.15"/>
<path d="M842.6 420V465" stroke-dashoffset="10.24" stroke-opacity="0.15"/>
<path d="M842.6 465V512" stroke-dashoffset="10.56" stroke-opacity="0.15"/>
<path d="M842.6 512V558.8" stroke-dashoffset="1.71" stroke-opacity="0.3"/>
<path d="M842.6 558.8V604.8" stroke-dashoffset="3.83" stroke-opacity="0.3"/>
<path d="M842.6 604.8V650.8" stroke-dashoffset="5.15" stroke-opacity="0.3"/>
<path d="M842.6 650.8V697.4" stroke-dashoffset="6.47" stroke-opacity="0.15"/>
<path d="M958.7 512V558.8" stroke-dashoffset="1.71" stroke-opacity="0.15"/>
<path d="M958.7 558.8V604.8" stroke-dashoffset="3.83" stroke-opacity="0.15"/>
<path d="M958.7 604.8V650.8" stroke-dashoffset="5.15" stroke-opacity="0.3"/>
<path d="M958.7 650.8V697.4" stroke-dashoffset="6.47" stroke-opacity="0.3"/>
<path d="M958.7 697.4V743.3" stroke-dashoffset="8.39" stroke-opacity="0.15"/>
<path d="M958.7 743.3V789.5" stroke-dashoffset="9.61" stroke-opacity="0.15"/>
<path d="M1074.4 604.8V650.8" stroke-dashoffset="5.15" stroke-opacity="0.15"/>
<path d="M1074.4 650.8V697.4" stroke-dashoffset="6.47" stroke-opacity="0.15"/>
<path d="M1074.4 697.4V743.3" stroke-dashoffset="8.39" stroke-opacity="0.3"/>
<path d="M1074.4 743.3V789.5" stroke-dashoffset="9.61" stroke-opacity="0.3"/>
<path d="M1074.4 789.5V835.2" stroke-dashoffset="11.13" stroke-opacity="0.15"/>
<path d="M1074.4 835.2V882" stroke-dashoffset="0.98" stroke-opacity="0.15"/>
<path d="M1074.4 882V928" stroke-dashoffset="3.1" stroke-opacity="0.15"/>
<path d="M1190.7 697.4V743.3" stroke-dashoffset="8.39" stroke-opacity="0.15"/>
<path d="M1190.7 743.3V789.5" stroke-dashoffset="9.61" stroke-opacity="0.15"/>
<path d="M1190.7 789.5V835.2" stroke-dashoffset="11.13" stroke-opacity="0.3"/>
<path d="M1190.7 835.2V882" stroke-dashoffset="0.98" stroke-opacity="0.3"/>
<path d="M1190.7 882V928" stroke-dashoffset="3.1" stroke-opacity="0.3"/>
<path d="M1190.7 928V973.8" stroke-dashoffset="4.42" stroke-opacity="0.15"/>
<path d="M1190.7 973.8V1020.8" stroke-dashoffset="5.54" stroke-opacity="0.15"/>
<path d="M1190.7 1020.8V1067" stroke-dashoffset="7.86" stroke-opacity="0.15"/>
<path d="M1306.7 789.5V835.2" stroke-dashoffset="11.13" stroke-opacity="0.15"/>
<path d="M1306.7 835.2V882" stroke-dashoffset="0.98" stroke-opacity="0.15"/>
<path d="M1306.7 882V928" stroke-dashoffset="3.1" stroke-opacity="0.15"/>
<path d="M1306.7 928V973.8" stroke-dashoffset="4.42" stroke-opacity="0.15"/>
<path d="M1306.7 973.8V1020.8" stroke-dashoffset="5.54" stroke-opacity="0.3"/>
<path d="M1306.7 1020.8V1067" stroke-dashoffset="7.86" stroke-opacity="0.3"/>
<path d="M1306.7 1067V1112.8" stroke-dashoffset="9.38" stroke-opacity="0.15"/>
<path d="M1422 973.8V1020.8" stroke-dashoffset="5.54" stroke-opacity="0.15"/>
<path d="M1422 1020.8V1067" stroke-dashoffset="7.86" stroke-opacity="0.15"/>
<path d="M1422 1067V1112.8" stroke-dashoffset="9.38" stroke-opacity="0.15"/>
</g>
<path d="M378.9 235V373" stroke="#0c0c0c" stroke-opacity="0.9" stroke-width="1.3"/>
<path d="M24 973.8h3" stroke="#999" stroke-width="1.5"/>
<path d="M29.2 95.8 V1160.7" stroke="#9e9e9e" stroke-width="1.8" fill="none"/>
<path d="M1770.8 95.8 V1160.7" stroke="#9e9e9e" stroke-width="1.6" fill="none"/>
<path d="M29.2 28.6 V95.8" stroke="#e2e2e2" stroke-width="2" fill="none"/>
<path d="M1770.9 28.6 V95.8" stroke="#d8d8d8" stroke-width="1.8" fill="none"/>
<path d="M28.2 29.3 H1771.8" stroke="#ececec" stroke-width="1.8" fill="none"/>
<path d="M28.2 1160 H1771.6" stroke="#b2b2b2" stroke-width="1.6" fill="none"/>
</svg>
<div class="t h" style="left:-48.62px;top:43.7px;width:400px;">Room Temp</div>
<div class="t h" style="left:798.5px;top:44.1px;width:400px;letter-spacing:1px;">Relative Humidity</div>
<div class="t u" style="left:-111.4px;top:105.3px;width:400px;"><span class="dg">&deg;C</span></div>
<div class="t u" style="left:5px;top:105.3px;width:400px;"><span class="dg df">&deg;F</span></div>
<div class="t p" style="left:122.2px;top:107.3px;width:400px;">30%</div>
<div class="t p" style="left:238.7px;top:107.3px;width:400px;">35%</div>
<div class="t p" style="left:353.7px;top:107.3px;width:400px;">40%</div>
<div class="t p" style="left:469.7px;top:107.3px;width:400px;">45%</div>
<div class="t p" style="left:586.2px;top:107.3px;width:400px;">50%</div>
<div class="t p" style="left:702px;top:107.3px;width:400px;">55%</div>
<div class="t p" style="left:817.8px;top:107.3px;width:400px;">60%</div>
<div class="t p" style="left:933px;top:107.3px;width:400px;">65%</div>
<div class="t p" style="left:1049.2px;top:107.3px;width:400px;">70%</div>
<div class="t p" style="left:1164.5px;top:107.3px;width:400px;">75%</div>
<div class="t p" style="left:1280.4px;top:107.3px;width:400px;">80%</div>
<div class="t p" style="left:1396.4px;top:107.3px;width:400px;">85%</div>
<div class="t p" style="left:1513.7px;top:107.3px;width:400px;">90%</div>
<div class="t b" style="left:-108.3px;top:149.6px;width:400px;">15</div>
<div class="t b" style="left:6.3px;top:149.6px;width:400px;">59</div>
<div class="t d" style="left:118.05px;top:149.35px;width:400px;">1.19</div>
<div class="t d" style="left:231.25px;top:149.35px;width:400px;">1.11</div>
<div class="t d" style="left:347.25px;top:146.35px;width:400px;">1.02</div>
<div class="t d" style="left:465.55px;top:149.35px;width:400px;">0.94</div>
<div class="t d" style="left:578.05px;top:149.35px;width:400px;">0.85</div>
<div class="t d" style="left:695.15px;top:149.35px;width:400px;">0.77</div>
<div class="t d" style="left:811.45px;top:149.35px;width:400px;">0.68</div>
<div class="t d" style="left:926.95px;top:149.35px;width:400px;">0.60</div>
<div class="t d" style="left:1041.25px;top:149.35px;width:400px;">0.51</div>
<div class="t d" style="left:1157.75px;top:149.35px;width:400px;">0.43</div>
<div class="t d" style="left:1273.75px;top:149.35px;width:400px;">0.34</div>
<div class="t d" style="left:1389.15px;top:149.35px;width:400px;">0.26</div>
<div class="t d" style="left:1510.05px;top:149.35px;width:400px;">0.17</div>
<div class="t b" style="left:-108.3px;top:195.55px;width:400px;">16</div>
<div class="t b" style="left:6.3px;top:195.55px;width:400px;">61</div>
<div class="t d" style="left:118.05px;top:195.3px;width:400px;">1.27</div>
<div class="t d" style="left:231.25px;top:195.3px;width:400px;">1.18</div>
<div class="t d" style="left:347.25px;top:192.3px;width:400px;">1.09</div>
<div class="t d" style="left:462.25px;top:195.3px;width:400px;">1.00</div>
<div class="t d" style="left:578.05px;top:195.3px;width:400px;">0.91</div>
<div class="t d" style="left:695.15px;top:195.3px;width:400px;">0.82</div>
<div class="t d" style="left:811.45px;top:195.3px;width:400px;">0.73</div>
<div class="t d" style="left:926.95px;top:195.3px;width:400px;">0.64</div>
<div class="t d" style="left:1041.25px;top:195.3px;width:400px;">0.55</div>
<div class="t d" style="left:1157.75px;top:195.3px;width:400px;">0.45</div>
<div class="t d" style="left:1273.75px;top:195.3px;width:400px;">0.36</div>
<div class="t d" style="left:1389.15px;top:195.3px;width:400px;">0.27</div>
<div class="t d" style="left:1510.05px;top:195.3px;width:400px;">0.18</div>
<div class="t b" style="left:-108.3px;top:242.35px;width:400px;">17</div>
<div class="t b" style="left:6.3px;top:242.35px;width:400px;">63</div>
<div class="t d" style="left:114.05px;top:242.1px;width:400px;">1.36</div>
<div class="t d" style="left:231.25px;top:242.1px;width:400px;">1.26</div>
<div class="t d" style="left:347.25px;top:239.1px;width:400px;">1.16</div>
<div class="t d" style="left:465.75px;top:242.1px;width:400px;">1.07</div>
<div class="t d" style="left:578.05px;top:242.1px;width:400px;">0.97</div>
<div class="t d" style="left:695.15px;top:242.1px;width:400px;">0.87</div>
<div class="t d" style="left:811.45px;top:242.1px;width:400px;">0.78</div>
<div class="t d" style="left:926.95px;top:242.1px;width:400px;">0.68</div>
<div class="t d" style="left:1041.25px;top:242.1px;width:400px;">0.58</div>
<div class="t d" style="left:1157.75px;top:242.1px;width:400px;">0.48</div>
<div class="t d" style="left:1273.75px;top:242.1px;width:400px;">0.39</div>
<div class="t d" style="left:1389.15px;top:242.1px;width:400px;">0.29</div>
<div class="t d" style="left:1510.05px;top:242.1px;width:400px;">0.19</div>
<div class="t b" style="left:-108.3px;top:288.25px;width:400px;">18</div>
<div class="t b" style="left:6.3px;top:288.25px;width:400px;">64</div>
<div class="t d" style="left:114.05px;top:288px;width:400px;">1.44</div>
<div class="t d" style="left:231.25px;top:288px;width:400px;">1.34</div>
<div class="t d" style="left:347.25px;top:285px;width:400px;">1.24</div>
<div class="t d" style="left:466.25px;top:288px;width:400px;">1.14</div>
<div class="t d" style="left:578.05px;top:288px;width:400px;">1.03</div>
<div class="t d" style="left:695.15px;top:288px;width:400px;">0.93</div>
<div class="t d" style="left:811.45px;top:288px;width:400px;">0.83</div>
<div class="t d" style="left:926.95px;top:288px;width:400px;">0.72</div>
<div class="t d" style="left:1041.25px;top:288px;width:400px;">0.62</div>
<div class="t d" style="left:1157.75px;top:288px;width:400px;">0.52</div>
<div class="t d" style="left:1273.75px;top:288px;width:400px;">0.41</div>
<div class="t d" style="left:1389.15px;top:288px;width:400px;">0.31</div>
<div class="t d" style="left:1510.05px;top:288px;width:400px;">0.21</div>
<div class="t b" style="left:-108.3px;top:334.2px;width:400px;">19</div>
<div class="t b" style="left:6.3px;top:334.2px;width:400px;">66</div>
<div class="t d" style="left:118.05px;top:333.95px;width:400px;">1.54</div>
<div class="t d" style="left:231.25px;top:333.95px;width:400px;">1.43</div>
<div class="t d" style="left:347.25px;top:330.95px;width:400px;">1.32</div>
<div class="t d" style="left:462.25px;top:333.95px;width:400px;">1.21</div>
<div class="t d" style="left:578.05px;top:333.95px;width:400px;">1.10</div>
<div class="t d" style="left:695.15px;top:333.95px;width:400px;">0.99</div>
<div class="t d" style="left:811.45px;top:333.95px;width:400px;">0.88</div>
<div class="t d" style="left:926.95px;top:333.95px;width:400px;">0.77</div>
<div class="t d" style="left:1041.25px;top:333.95px;width:400px;">0.66</div>
<div class="t d" style="left:1157.75px;top:333.95px;width:400px;">0.55</div>
<div class="t d" style="left:1273.75px;top:333.95px;width:400px;">0.44</div>
<div class="t d" style="left:1389.15px;top:333.95px;width:400px;">0.33</div>
<div class="t d" style="left:1510.05px;top:333.95px;width:400px;">0.22</div>
<div class="t b" style="left:-108.3px;top:381.1px;width:400px;">20</div>
<div class="t b" style="left:6.3px;top:381.1px;width:400px;">68</div>
<div class="t d" style="left:118.05px;top:380.85px;width:400px;">1.64</div>
<div class="t d" style="left:231.25px;top:380.85px;width:400px;">1.52</div>
<div class="t d" style="left:347.25px;top:377.85px;width:400px;">1.40</div>
<div class="t d" style="left:462.25px;top:380.85px;width:400px;">1.29</div>
<div class="t d" style="left:578.05px;top:380.85px;width:400px;">1.17</div>
<div class="t d" style="left:695.15px;top:380.85px;width:400px;">1.05</div>
<div class="t d" style="left:811.45px;top:380.85px;width:400px;">0.94</div>
<div class="t d" style="left:926.95px;top:380.85px;width:400px;">0.82</div>
<div class="t d" style="left:1041.25px;top:380.85px;width:400px;">0.70</div>
<div class="t d" style="left:1157.75px;top:380.85px;width:400px;">0.58</div>
<div class="t d" style="left:1273.75px;top:380.85px;width:400px;">0.48</div>
<div class="t d" style="left:1389.15px;top:380.85px;width:400px;">0.35</div>
<div class="t d" style="left:1510.05px;top:380.85px;width:400px;">0.23</div>
<div class="t b" style="left:-108.3px;top:427.1px;width:400px;">21</div>
<div class="t b" style="left:6.3px;top:427.1px;width:400px;">70</div>
<div class="t d" style="left:118.05px;top:426.85px;width:400px;">1.74</div>
<div class="t d" style="left:231.25px;top:426.85px;width:400px;">1.62</div>
<div class="t d" style="left:347.25px;top:423.85px;width:400px;">1.49</div>
<div class="t d" style="left:462.25px;top:426.85px;width:400px;">1.37</div>
<div class="t d" style="left:578.05px;top:426.85px;width:400px;">1.24</div>
<div class="t d" style="left:695.15px;top:426.85px;width:400px;">1.12</div>
<div class="t d" style="left:811.45px;top:426.85px;width:400px;">0.99</div>
<div class="t d" style="left:926.95px;top:426.85px;width:400px;">0.87</div>
<div class="t d" style="left:1041.25px;top:426.85px;width:400px;">0.75</div>
<div class="t d" style="left:1157.75px;top:426.85px;width:400px;">0.62</div>
<div class="t d" style="left:1273.75px;top:426.85px;width:400px;">0.50</div>
<div class="t d" style="left:1389.15px;top:426.85px;width:400px;">0.37</div>
<div class="t d" style="left:1510.05px;top:426.85px;width:400px;">0.25</div>
<div class="t b" style="left:-108.3px;top:473.1px;width:400px;">22</div>
<div class="t b" style="left:6.3px;top:473.1px;width:400px;">72</div>
<div class="t d" style="left:118.05px;top:472.85px;width:400px;">1.85</div>
<div class="t d" style="left:235.25px;top:472.85px;width:400px;">1.72</div>
<div class="t d" style="left:347.25px;top:469.85px;width:400px;">1.59</div>
<div class="t d" style="left:462.25px;top:472.85px;width:400px;">1.45</div>
<div class="t d" style="left:578.05px;top:472.85px;width:400px;">1.32</div>
<div class="t d" style="left:695.15px;top:472.85px;width:400px;">1.19</div>
<div class="t d" style="left:811.45px;top:472.85px;width:400px;">1.06</div>
<div class="t d" style="left:926.95px;top:472.85px;width:400px;">0.93</div>
<div class="t d" style="left:1041.25px;top:472.85px;width:400px;">0.79</div>
<div class="t d" style="left:1157.75px;top:472.85px;width:400px;">0.66</div>
<div class="t d" style="left:1273.75px;top:472.85px;width:400px;">0.53</div>
<div class="t d" style="left:1389.15px;top:472.85px;width:400px;">0.40</div>
<div class="t d" style="left:1510.05px;top:472.85px;width:400px;">0.26</div>
<div class="t b" style="left:-108.3px;top:520px;width:400px;">23</div>
<div class="t b" style="left:6.3px;top:520px;width:400px;">73</div>
<div class="t d" style="left:118.05px;top:519.75px;width:400px;">1.97</div>
<div class="t d" style="left:235.25px;top:519.75px;width:400px;">1.83</div>
<div class="t d" style="left:350.75px;top:516.75px;width:400px;">1.69</div>
<div class="t d" style="left:465.75px;top:519.75px;width:400px;">1.55</div>
<div class="t d" style="left:578.05px;top:519.75px;width:400px;">1.40</div>
<div class="t d" style="left:695.15px;top:519.75px;width:400px;">1.26</div>
<div class="t d" style="left:811.45px;top:519.75px;width:400px;">1.12</div>
<div class="t d" style="left:926.95px;top:519.75px;width:400px;">0.98</div>
<div class="t d" style="left:1041.25px;top:519.75px;width:400px;">0.84</div>
<div class="t d" style="left:1157.75px;top:519.75px;width:400px;">0.70</div>
<div class="t d" style="left:1273.75px;top:519.75px;width:400px;">0.56</div>
<div class="t d" style="left:1389.15px;top:519.75px;width:400px;">0.42</div>
<div class="t d" style="left:1510.05px;top:519.75px;width:400px;">0.28</div>
<div class="t b" style="left:-108.3px;top:566.4px;width:400px;">24</div>
<div class="t b" style="left:6.3px;top:566.4px;width:400px;">75</div>
<div class="t d" style="left:118.05px;top:566.15px;width:400px;">2.09</div>
<div class="t d" style="left:231.25px;top:566.15px;width:400px;">1.94</div>
<div class="t d" style="left:347.25px;top:563.15px;width:400px;">1.79</div>
<div class="t d" style="left:462.25px;top:566.15px;width:400px;">1.64</div>
<div class="t d" style="left:578.05px;top:566.15px;width:400px;">1.49</div>
<div class="t d" style="left:695.15px;top:566.15px;width:400px;">1.34</div>
<div class="t d" style="left:811.45px;top:566.15px;width:400px;">1.19</div>
<div class="t d" style="left:926.95px;top:566.15px;width:400px;">1.04</div>
<div class="t d" style="left:1041.25px;top:566.15px;width:400px;">0.90</div>
<div class="t d" style="left:1157.75px;top:566.15px;width:400px;">0.75</div>
<div class="t d" style="left:1273.75px;top:566.15px;width:400px;">0.60</div>
<div class="t d" style="left:1389.15px;top:566.15px;width:400px;">0.45</div>
<div class="t d" style="left:1510.05px;top:566.15px;width:400px;">0.30</div>
<div class="t b" style="left:-108.3px;top:612.4px;width:400px;">25</div>
<div class="t b" style="left:6.3px;top:612.4px;width:400px;">77</div>
<div class="t d" style="left:118.05px;top:612.15px;width:400px;">2.22</div>
<div class="t d" style="left:231.25px;top:612.15px;width:400px;">2.06</div>
<div class="t d" style="left:347.25px;top:609.15px;width:400px;">1.90</div>
<div class="t d" style="left:462.25px;top:612.15px;width:400px;">1.74</div>
<div class="t d" style="left:578.05px;top:612.15px;width:400px;">1.58</div>
<div class="t d" style="left:695.15px;top:612.15px;width:400px;">1.43</div>
<div class="t d" style="left:811.45px;top:612.15px;width:400px;">1.27</div>
<div class="t d" style="left:926.95px;top:612.15px;width:400px;">1.11</div>
<div class="t d" style="left:1041.25px;top:612.15px;width:400px;">0.95</div>
<div class="t d" style="left:1157.75px;top:612.15px;width:400px;">0.79</div>
<div class="t d" style="left:1273.75px;top:612.15px;width:400px;">0.63</div>
<div class="t d" style="left:1389.15px;top:612.15px;width:400px;">0.48</div>
<div class="t d" style="left:1510.05px;top:612.15px;width:400px;">0.32</div>
<div class="t b" style="left:-108.3px;top:658.7px;width:400px;">26</div>
<div class="t b" style="left:6.3px;top:658.7px;width:400px;">79</div>
<div class="t d" style="left:118.05px;top:658.45px;width:400px;">2.35</div>
<div class="t d" style="left:231.25px;top:658.45px;width:400px;">2.18</div>
<div class="t d" style="left:347.25px;top:655.45px;width:400px;">2.02</div>
<div class="t d" style="left:462.25px;top:658.45px;width:400px;">1.85</div>
<div class="t d" style="left:578.05px;top:658.45px;width:400px;">1.68</div>
<div class="t d" style="left:695.15px;top:658.45px;width:400px;">1.51</div>
<div class="t d" style="left:811.45px;top:658.45px;width:400px;">1.34</div>
<div class="t d" style="left:926.95px;top:658.45px;width:400px;">1.18</div>
<div class="t d" style="left:1041.25px;top:658.45px;width:400px;">1.01</div>
<div class="t d" style="left:1157.75px;top:658.45px;width:400px;">0.84</div>
<div class="t d" style="left:1273.75px;top:658.45px;width:400px;">0.67</div>
<div class="t d" style="left:1389.15px;top:658.45px;width:400px;">0.50</div>
<div class="t d" style="left:1510.05px;top:658.45px;width:400px;">0.34</div>
<div class="t b" style="left:-108.3px;top:704.95px;width:400px;">27</div>
<div class="t b" style="left:6.3px;top:704.95px;width:400px;">81</div>
<div class="t d" style="left:118.05px;top:704.7px;width:400px;">2.50</div>
<div class="t d" style="left:231.25px;top:704.7px;width:400px;">2.32</div>
<div class="t d" style="left:347.25px;top:701.7px;width:400px;">2.14</div>
<div class="t d" style="left:462.25px;top:704.7px;width:400px;">1.96</div>
<div class="t d" style="left:578.05px;top:704.7px;width:400px;">1.78</div>
<div class="t d" style="left:695.15px;top:704.7px;width:400px;">1.60</div>
<div class="t d" style="left:811.45px;top:704.7px;width:400px;">1.43</div>
<div class="t d" style="left:926.95px;top:704.7px;width:400px;">1.25</div>
<div class="t d" style="left:1041.25px;top:704.7px;width:400px;">1.07</div>
<div class="t d" style="left:1157.75px;top:704.7px;width:400px;">0.89</div>
<div class="t d" style="left:1273.75px;top:704.7px;width:400px;">0.71</div>
<div class="t d" style="left:1389.15px;top:704.7px;width:400px;">0.53</div>
<div class="t d" style="left:1510.05px;top:704.7px;width:400px;">0.36</div>
<div class="t b" style="left:-108.3px;top:751px;width:400px;">28</div>
<div class="t b" style="left:6.3px;top:751px;width:400px;">82</div>
<div class="t d" style="left:118.05px;top:750.75px;width:400px;">2.65</div>
<div class="t d" style="left:231.25px;top:750.75px;width:400px;">2.46</div>
<div class="t d" style="left:347.25px;top:747.75px;width:400px;">2.27</div>
<div class="t d" style="left:462.25px;top:750.75px;width:400px;">2.08</div>
<div class="t d" style="left:578.05px;top:750.75px;width:400px;">1.89</div>
<div class="t d" style="left:695.15px;top:750.75px;width:400px;">1.70</div>
<div class="t d" style="left:811.45px;top:750.75px;width:400px;">1.51</div>
<div class="t d" style="left:926.95px;top:750.75px;width:400px;">1.32</div>
<div class="t d" style="left:1041.25px;top:750.75px;width:400px;">1.13</div>
<div class="t d" style="left:1157.75px;top:750.75px;width:400px;">0.94</div>
<div class="t d" style="left:1273.75px;top:750.75px;width:400px;">0.76</div>
<div class="t d" style="left:1389.15px;top:750.75px;width:400px;">0.57</div>
<div class="t d" style="left:1510.05px;top:750.75px;width:400px;">0.38</div>
<div class="t b" style="left:-108.3px;top:796.95px;width:400px;">29</div>
<div class="t b" style="left:6.3px;top:796.95px;width:400px;">84</div>
<div class="t d" style="left:118.05px;top:796.7px;width:400px;">2.80</div>
<div class="t d" style="left:231.25px;top:796.7px;width:400px;">2.60</div>
<div class="t d" style="left:351.25px;top:793.7px;width:400px;">2.40</div>
<div class="t d" style="left:462.25px;top:796.7px;width:400px;">2.20</div>
<div class="t d" style="left:578.05px;top:796.7px;width:400px;">2.00</div>
<div class="t d" style="left:695.15px;top:796.7px;width:400px;">1.80</div>
<div class="t d" style="left:811.45px;top:796.7px;width:400px;">1.60</div>
<div class="t d" style="left:926.95px;top:796.7px;width:400px;">1.40</div>
<div class="t d" style="left:1041.25px;top:796.7px;width:400px;">1.20</div>
<div class="t d" style="left:1157.75px;top:796.7px;width:400px;">1.00</div>
<div class="t d" style="left:1273.75px;top:796.7px;width:400px;">0.80</div>
<div class="t d" style="left:1389.15px;top:796.7px;width:400px;">0.60</div>
<div class="t d" style="left:1510.05px;top:796.7px;width:400px;">0.40</div>
<div class="t b" style="left:-108.3px;top:843.2px;width:400px;">30</div>
<div class="t b" style="left:6.3px;top:843.2px;width:400px;">86</div>
<div class="t d" style="left:118.05px;top:842.95px;width:400px;">2.97</div>
<div class="t d" style="left:231.25px;top:842.95px;width:400px;">2.76</div>
<div class="t d" style="left:351.25px;top:839.95px;width:400px;">2.55</div>
<div class="t d" style="left:462.25px;top:842.95px;width:400px;">2.33</div>
<div class="t d" style="left:578.05px;top:842.95px;width:400px;">2.12</div>
<div class="t d" style="left:695.15px;top:842.95px;width:400px;">1.91</div>
<div class="t d" style="left:811.45px;top:842.95px;width:400px;">1.70</div>
<div class="t d" style="left:926.95px;top:842.95px;width:400px;">1.48</div>
<div class="t d" style="left:1041.25px;top:842.95px;width:400px;">1.27</div>
<div class="t d" style="left:1157.75px;top:842.95px;width:400px;">1.06</div>
<div class="t d" style="left:1273.75px;top:842.95px;width:400px;">0.85</div>
<div class="t d" style="left:1389.15px;top:842.95px;width:400px;">0.64</div>
<div class="t d" style="left:1510.05px;top:842.95px;width:400px;">0.42</div>
<div class="t b" style="left:-108.3px;top:889.6px;width:400px;">31</div>
<div class="t b" style="left:6.3px;top:889.6px;width:400px;">88</div>
<div class="t d" style="left:118.05px;top:889.35px;width:400px;">3.14</div>
<div class="t d" style="left:231.25px;top:889.35px;width:400px;">2.92</div>
<div class="t d" style="left:351.25px;top:886.35px;width:400px;">2.70</div>
<div class="t d" style="left:462.25px;top:889.35px;width:400px;">2.47</div>
<div class="t d" style="left:582.05px;top:889.35px;width:400px;">2.25</div>
<div class="t d" style="left:695.15px;top:889.35px;width:400px;">2.02</div>
<div class="t d" style="left:811.45px;top:889.35px;width:400px;">1.80</div>
<div class="t d" style="left:926.95px;top:889.35px;width:400px;">1.57</div>
<div class="t d" style="left:1041.25px;top:889.35px;width:400px;">1.35</div>
<div class="t d" style="left:1157.75px;top:889.35px;width:400px;">1.12</div>
<div class="t d" style="left:1273.75px;top:889.35px;width:400px;">0.90</div>
<div class="t d" style="left:1389.15px;top:889.35px;width:400px;">0.67</div>
<div class="t d" style="left:1510.05px;top:889.35px;width:400px;">0.45</div>
<div class="t b" style="left:-108.3px;top:935.5px;width:400px;">32</div>
<div class="t b" style="left:6.3px;top:935.5px;width:400px;">90</div>
<div class="t d" style="left:118.05px;top:935.25px;width:400px;">3.33</div>
<div class="t d" style="left:231.25px;top:935.25px;width:400px;">3.09</div>
<div class="t d" style="left:351.25px;top:932.25px;width:400px;">2.85</div>
<div class="t d" style="left:465.75px;top:935.25px;width:400px;">2.61</div>
<div class="t d" style="left:578.05px;top:935.25px;width:400px;">2.38</div>
<div class="t d" style="left:695.15px;top:935.25px;width:400px;">2.14</div>
<div class="t d" style="left:811.45px;top:935.25px;width:400px;">1.90</div>
<div class="t d" style="left:926.95px;top:935.25px;width:400px;">1.66</div>
<div class="t d" style="left:1041.25px;top:935.25px;width:400px;">1.43</div>
<div class="t d" style="left:1157.75px;top:935.25px;width:400px;">1.19</div>
<div class="t d" style="left:1273.75px;top:935.25px;width:400px;">0.95</div>
<div class="t d" style="left:1389.15px;top:935.25px;width:400px;">0.71</div>
<div class="t d" style="left:1510.05px;top:935.25px;width:400px;">0.48</div>
<div class="t b" style="left:-108.3px;top:981.9px;width:400px;">33</div>
<div class="t b" style="left:6.3px;top:981.9px;width:400px;">91</div>
<div class="t d" style="left:118.05px;top:981.65px;width:400px;">3.52</div>
<div class="t d" style="left:231.25px;top:981.65px;width:400px;">3.27</div>
<div class="t d" style="left:347.25px;top:978.65px;width:400px;">3.02</div>
<div class="t d" style="left:465.75px;top:981.65px;width:400px;">2.77</div>
<div class="t d" style="left:578.05px;top:981.65px;width:400px;">2.51</div>
<div class="t d" style="left:695.15px;top:981.65px;width:400px;">2.26</div>
<div class="t d" style="left:811.45px;top:981.65px;width:400px;">2.01</div>
<div class="t d" style="left:926.95px;top:981.65px;width:400px;">1.76</div>
<div class="t d" style="left:1041.25px;top:981.65px;width:400px;">1.51</div>
<div class="t d" style="left:1157.75px;top:981.65px;width:400px;">1.26</div>
<div class="t d" style="left:1273.75px;top:981.65px;width:400px;">1.01</div>
<div class="t d" style="left:1389.15px;top:981.65px;width:400px;">0.75</div>
<div class="t d" style="left:1510.05px;top:981.65px;width:400px;">0.50</div>
<div class="t b" style="left:-108.3px;top:1028.5px;width:400px;">34</div>
<div class="t b" style="left:6.3px;top:1028.5px;width:400px;">93</div>
<div class="t d" style="left:118.05px;top:1028.25px;width:400px;">3.72</div>
<div class="t d" style="left:231.25px;top:1028.25px;width:400px;">3.46</div>
<div class="t d" style="left:347.25px;top:1025.25px;width:400px;">3.19</div>
<div class="t d" style="left:465.75px;top:1028.25px;width:400px;">2.93</div>
<div class="t d" style="left:578.05px;top:1028.25px;width:400px;">2.66</div>
<div class="t d" style="left:695.15px;top:1028.25px;width:400px;">2.39</div>
<div class="t d" style="left:811.45px;top:1028.25px;width:400px;">2.13</div>
<div class="t d" style="left:926.95px;top:1028.25px;width:400px;">1.86</div>
<div class="t d" style="left:1041.25px;top:1028.25px;width:400px;">1.60</div>
<div class="t d" style="left:1157.75px;top:1028.25px;width:400px;">1.33</div>
<div class="t d" style="left:1273.75px;top:1028.25px;width:400px;">1.06</div>
<div class="t d" style="left:1389.15px;top:1028.25px;width:400px;">0.80</div>
<div class="t d" style="left:1510.05px;top:1028.25px;width:400px;">0.53</div>
<div class="t b" style="left:-112.3px;top:1073px;width:400px;">35</div>
<div class="t b" style="left:6.3px;top:1074.5px;width:400px;">95</div>
<div class="t d" style="left:118.05px;top:1074.25px;width:400px;">3.94</div>
<div class="t d" style="left:231.25px;top:1074.25px;width:400px;">3.65</div>
<div class="t d" style="left:347.25px;top:1071.25px;width:400px;">3.37</div>
<div class="t d" style="left:462.25px;top:1074.25px;width:400px;">3.09</div>
<div class="t d" style="left:578.05px;top:1074.25px;width:400px;">2.81</div>
<div class="t d" style="left:695.15px;top:1074.25px;width:400px;">2.53</div>
<div class="t d" style="left:811.45px;top:1074.25px;width:400px;">2.25</div>
<div class="t d" style="left:926.95px;top:1074.25px;width:400px;">1.97</div>
<div class="t d" style="left:1041.25px;top:1074.25px;width:400px;">1.69</div>
<div class="t d" style="left:1157.75px;top:1074.25px;width:400px;">1.41</div>
<div class="t d" style="left:1273.75px;top:1074.25px;width:400px;">1.12</div>
<div class="t d" style="left:1389.15px;top:1074.25px;width:400px;">0.84</div>
<div class="t d" style="left:1510.05px;top:1074.25px;width:400px;">0.56</div>
<div class="c" style="left:210px;top:1127.5px;width:21.5px;height:21px;background:#5ea82e;border:1.5px solid #c4ccbc;box-sizing:border-box"></div>
<div class="t l" style="left:241.7px;top:1123.7px;letter-spacing:0.15px;">Propogation / Early Veg</div>
<div class="c" style="left:593.5px;top:1127.5px;width:21.5px;height:21px;background:#3f7421;border:1.5px solid #c4ccbc;box-sizing:border-box"></div>
<div class="t l" style="left:629.2px;top:1123.7px;letter-spacing:-0.12px;">Early Flower / Late Veg</div>
<div class="c" style="left:1009px;top:1127.5px;width:21.5px;height:21px;background:#8f988a;border:1.5px solid #c4ccbc;box-sizing:border-box"></div>
<div class="t l" style="left:1045.2px;top:1126.4px;">Mid / Late Flower</div>
<div class="c" style="left:1412.5px;top:1127.5px;width:21.5px;height:21px;background:#1b2714;border:1.5px solid #c4ccbc;box-sizing:border-box"></div>
<div class="t l" style="left:1447.7px;top:1125.8px;">Danger Zone</div>
</body></html>
